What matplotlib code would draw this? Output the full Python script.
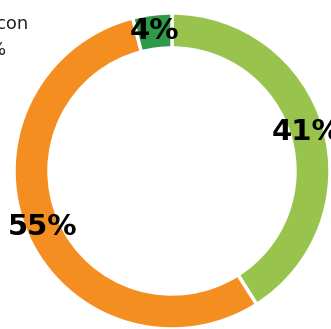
import matplotlib.pyplot as plt

# porcentajes del anillo, en sentido horario desde arriba
categorias = ["Verde claro", "Naranja", "Verde oscuro"]
valores = [41, 55, 4]
colores = ["#98C44D", "#F48E20", "#2C9A48"]

fig = plt.figure(figsize=(3.31, 3.29), dpi=100)
ax = fig.add_axes([0, 0, 1, 1])

wedges, textos, pcts = ax.pie(
    valores, colors=colores, startangle=90, counterclock=False,
    radius=158, center=(172, 158),
    wedgeprops=dict(width=35, edgecolor="white", linewidth=2.5),
    autopct=lambda p: f"{p:.0f}%", pctdistance=0.89,
    textprops=dict(fontsize=21, fontweight="bold", color="black"),
)

# texto de la leyenda, cortado por el borde
ax.text(28, 300, "con", ha="right", va="baseline", fontsize=13, color="#222222")
ax.text(6, 274, "%", ha="right", va="baseline", fontsize=13, color="#222222")

ax.set_xlim(0, 331)
ax.set_ylim(0, 329)
ax.set_aspect("equal")
ax.axis("off")

fig.savefig("out.png", dpi=100)
